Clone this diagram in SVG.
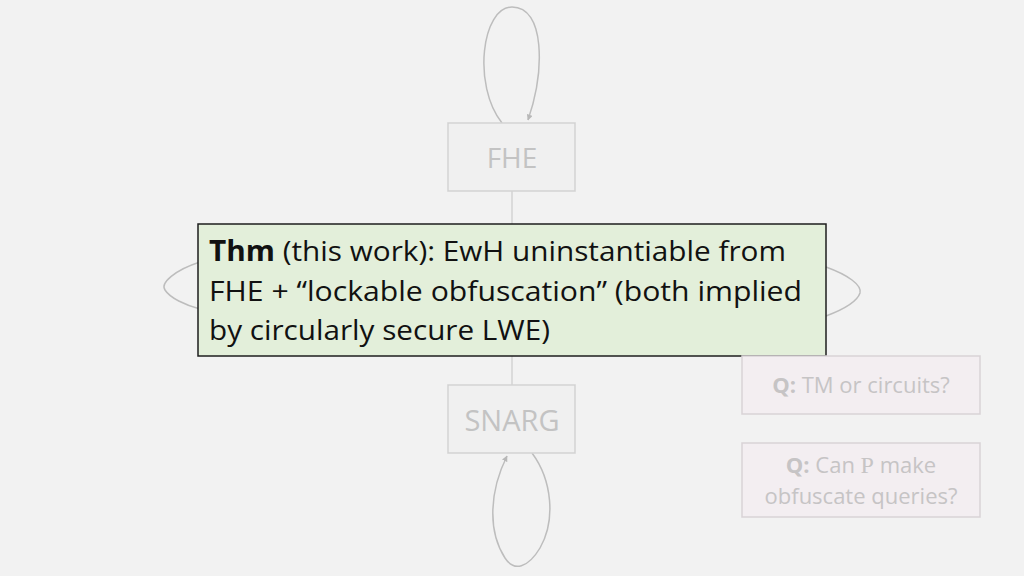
<svg xmlns="http://www.w3.org/2000/svg" width="1024" height="576" viewBox="0 0 1024 576">
<defs>
<marker id="arr" viewBox="0 0 10 10" refX="9" refY="5" markerWidth="4" markerHeight="4" orient="auto" markerUnits="strokeWidth">
<path d="M0,0 L10,5 L0,10 z" fill="#b8b8b8"/>
</marker>
<style>
.bg{fill:#f2f2f2}
.node{fill:#f0f0f0;stroke:#d3d3d3;stroke-width:1.5}
.ntxt{font-family:"Open Sans","Liberation Sans",sans-serif;fill:#c3c3c3;text-anchor:middle}
.edge{fill:none;stroke:#bdbdbd;stroke-width:1.5}
.line{fill:none;stroke:#d3d3d3;stroke-width:1.5}
.q{fill:#f3eef1;stroke:#d9d3d6;stroke-width:1.5}
.qtxt{font-family:"Open Sans","Liberation Sans",sans-serif;font-size:22px;fill:#c6c4c5;text-anchor:middle}
.main{fill:#e3efda;stroke:#1e1e1e;stroke-width:1.5}
.mtxt{font-family:"Open Sans","Liberation Sans",sans-serif;font-size:28px;fill:#111111}
</style>
</defs>
<rect class="bg" x="0" y="0" width="1024" height="576"/>
<g id="connectors">
<path class="edge" d="M502,123 C472,85 482,7 512,7 C545,7 545,70 528,120" marker-end="url(#arr)"/>
<path class="edge" d="M532,453 C552,480 556,520 540,548 C528,568 514,572 505,558 C487,530 490,490 507,456" marker-end="url(#arr)"/>
<path class="edge" d="M200,262 C175,270 160,283 165,290 C170,298 185,305 200,309"/>
<path class="edge" d="M826,267 C848,275 862,285 860,293 C857,302 842,310 826,316"/>
<line class="line" x1="512" y1="191" x2="512" y2="224"/>
<line class="line" x1="512" y1="356" x2="512" y2="385"/>
</g>
<g id="fhe">
<rect class="node" x="448" y="123" width="127" height="68"/>
<text class="ntxt" x="512" y="168" font-size="28">FHE</text>
</g>
<g id="snarg">
<rect class="node" x="448" y="385" width="127" height="68"/>
<text class="ntxt" x="512" y="431" font-size="29">SNARG</text>
</g>
<g id="thm">
<rect class="main" x="198" y="224" width="628" height="132"/>
<text class="mtxt" x="209" y="261" textLength="577" lengthAdjust="spacingAndGlyphs"><tspan font-weight="bold">Thm</tspan> (this work): EwH uninstantiable from</text>
<text class="mtxt" x="209" y="301" textLength="593" lengthAdjust="spacingAndGlyphs">FHE + “lockable obfuscation” (both implied</text>
<text class="mtxt" x="209" y="340" textLength="341" lengthAdjust="spacingAndGlyphs">by circularly secure LWE)</text>
</g>
<g id="q1">
<rect class="q" x="742" y="356" width="238" height="58"/>
<text class="qtxt" x="861" y="393"><tspan font-weight="bold">Q:</tspan> TM or circuits?</text>
</g>
<g id="q2">
<rect class="q" x="742" y="443" width="238" height="74"/>
<text class="qtxt" x="861" y="473"><tspan font-weight="bold">Q:</tspan> Can <tspan font-family="Liberation Serif,serif" font-size="24px">P</tspan> make</text>
<text class="qtxt" x="861" y="504">obfuscate queries?</text>
</g>
</svg>
